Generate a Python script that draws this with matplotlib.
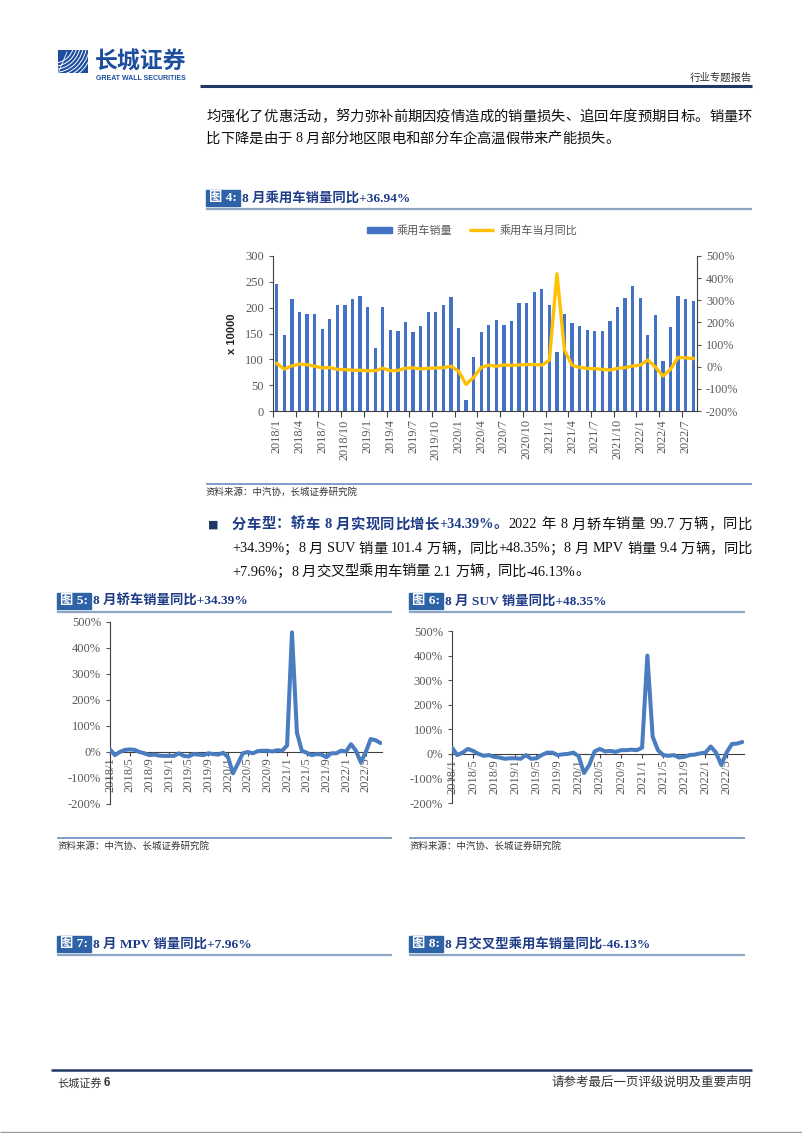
import matplotlib
matplotlib.use('Agg')
import matplotlib.pyplot as plt
import numpy as np
from matplotlib.patches import Rectangle, Arc
from matplotlib.lines import Line2D

W, H = 802, 1133
SERIF_CJK = ['Liberation Serif', 'Noto Sans CJK SC', 'DejaVu Sans']
plt.rcParams['font.family'] = SERIF_CJK

# ---------------- data ----------------
months = [f"{y}/{m}" for y in range(2018, 2023) for m in range(1, 13)][:56]

# 乘用车销量 (万辆)
passenger_sales = [245, 147, 216, 191, 188, 187, 158, 178, 205, 205, 217, 223,
                   202, 122, 202, 157, 155, 172, 152, 165, 192, 192, 205, 221,
                   160, 22, 104, 153, 167, 176, 166, 175, 209, 210, 230, 237,
                   205, 115, 187, 170, 164, 157, 155, 155, 175, 201, 219, 242,
                   218, 148, 186, 96, 162, 222, 217, 212]
# 乘用车当月同比 (%)
passenger_yoy = [14, -11, 4, 12, 9, 2, -5, -4, -12, -13, -16, -16,
                 -18, -18, -7, -18, -17, -7, -5, -10, -7, -6, -4, 2,
                 -20, -80, -48, -3, 7, 2, 8, 6, 8, 10, 10, 7,
                 29, 420, 75, 7, -3, -8, -9, -12, -15, -8, -4, 3,
                 7, 30, -1, -42, -12, 42, 40, 37]
# 轿车销量同比 (%)
sedan_yoy = [10, -12, 0, 8, 10, 8, 0, -5, -12, -10, -14, -15,
             -15, -15, -5, -15, -17, -8, -10, -12, -5, -8, -10, -3,
             -20, -82, -45, -5, 0, -5, 3, 5, 5, 2, 7, 5,
             25, 460, 75, 5, -3, -12, -8, -10, -20, -5, -5, 5,
             2, 30, 5, -40, 0, 50, 45, 34.39]
# SUV销量同比 (%)
suv_yoy = [25, -5, 5, 20, 12, 0, -8, -5, -12, -15, -20, -18,
           -18, -20, -5, -20, -18, -5, 5, 5, -5, -2, 0, 5,
           -10, -78, -45, 10, 20, 10, 12, 8, 15, 15, 17, 15,
           25, 400, 70, 15, -5, -8, -5, -15, -12, -5, -3, 2,
           5, 30, 5, -45, 5, 40, 42, 48.35]

BAR_C = '#4472C4'
LINE_Y = '#FFC000'
LINE_B = '#4A7CC0'
NAVY = '#1F3864'
TITLE_C = '#1F3C88'
BOX_C = '#2F63A8'
GRAY = '#595959'
BODY = 10.3

fig = plt.figure(figsize=(W / 100, H / 100), dpi=100)


def rect(l, t, r, b):
    return [l / W, 1 - b / H, (r - l) / W, (b - t) / H]


def ftext(x, y, s, **kw):
    kw.setdefault('va', 'center')
    return fig.text(x / W, 1 - y / H, s, **kw)


def hline(x0, x1, y, color, lw):
    fig.add_artist(Line2D([x0 / W, x1 / W], [1 - y / H, 1 - y / H], color=color,
                          lw=lw, transform=fig.transFigure, solid_capstyle='butt'))


renderer = fig.canvas.get_renderer()


def width_px(t):
    return t.get_window_extent(renderer=renderer).width


def justify(x0, x1, y, parts, size):
    toks = []
    for s, kw in parts:
        buf = ''
        for ch in s:
            if ord(ch) > 0x2E80 or ch == ' ':
                if buf:
                    toks.append((buf, kw))
                    buf = ''
                toks.append((ch, kw))
            else:
                buf += ch
        if buf:
            toks.append((buf, kw))
    items = []
    for s, kw in toks:
        if s == ' ':
            items.append((None, size * 1.389 * 0.25))
        else:
            t = ftext(0, y, s, fontsize=size, **kw)
            items.append((t, width_px(t)))
    extra = (x1 - x0 - sum(w for _, w in items)) / (len(items) - 1)
    x = x0
    for t, w in items:
        if t is not None:
            t.set_x(x / W)
        x += w + extra


def plain(x0, y, parts, size):
    # same tokenised layout, natural spacing
    x = x0
    for s, kw in parts:
        buf = ''
        for ch in s + '\0':
            if ch == '\0' or ord(ch) > 0x2E80 or ch == ' ':
                if buf:
                    t = ftext(x, y, buf, fontsize=size, **kw)
                    x += width_px(t)
                    buf = ''
                if ch == ' ':
                    x += size * 1.389 * 0.25
                elif ch != '\0':
                    t = ftext(x, y, ch, fontsize=size, **kw)
                    x += width_px(t)
            else:
                buf += ch
    return x


# ---------------- header ----------------
lax = fig.add_axes(rect(58, 50, 88, 73))
lax.set_xlim(0, 30)
lax.set_ylim(0, 23)
lax.axis('off')
lax.add_patch(Rectangle((0, 0), 30, 23, color='#1D4E9E'))
for i in range(7):
    a = Arc((-4, 30), 2 * (20 + i * 3.2), 2 * (20 + i * 3.2), theta1=270, theta2=360,
            color='white', lw=0.7)
    a.set_clip_box(lax.bbox)
    lax.add_patch(a)
lax.plot([1, 9], [2, 21], color='white', lw=0.6)

ftext(95, 62, '长城证券', fontsize=16.5, color='#1D4E9E', fontweight='bold',
      family=['Noto Sans CJK SC'])
ftext(96, 78, 'GREAT WALL SECURITIES', fontsize=5, color='#1D4E9E', fontweight='bold',
      family=['Liberation Sans'])
ftext(752, 78, '行业专题报告', fontsize=7.5, color='#333333', ha='right')
hline(200, 752, 86, NAVY, 2.2)

# body text
justify(206, 752, 117, [('均强化了优惠活动，努力弥补前期因疫情造成的销量损失、追回年度预期目标。销量环',
                         dict(color='#111111'))], BODY)
plain(206, 139, [('比下降是由于 8 月部分地区限电和部分车企高温假带来产能损失。',
                  dict(color='#111111'))], BODY)


def fig_title(x, y, num, text, x_end):
    t = ftext(x + 3, y, f'图 {num}:', fontsize=9.6, color='white', fontweight='bold')
    w = width_px(t)
    fig.add_artist(Rectangle((x / W, 1 - (y + 8) / H), (w + 6) / W, 16 / H,
                             color=BOX_C, transform=fig.transFigure, zorder=0))
    ftext(x + w + 8, y, text, fontsize=9.6, color=TITLE_C, fontweight='bold')
    hline(x, x_end, y + 11, '#8DA6C6', 1.6)


# ---------------- figure 4 ----------------
fig_title(206, 198, 4, '8 月乘用车销量同比+36.94%', 752)

ax = fig.add_axes(rect(273, 256, 697, 411))
x = np.arange(len(months))
ax.bar(x, passenger_sales, width=0.45, color=BAR_C, zorder=2)
ax.set_xlim(-0.5, len(months) - 0.5)
ax.set_ylim(0, 300)
ax.set_yticks(range(0, 301, 50))
ax.tick_params(axis='y', labelsize=9, colors=GRAY, length=3, width=0.8)
for sp in ['top', 'right']:
    ax.spines[sp].set_visible(False)
for sp in ['left', 'bottom']:
    ax.spines[sp].set_color('#404040')
    ax.spines[sp].set_linewidth(0.8)
ax.set_xticks(np.arange(-0.5, len(months), 3))
ax.set_xticklabels([])
ax.tick_params(axis='x', which='major', length=4, width=0.8, color='#404040')
ax.set_xticks(x[::3], minor=True)
ax.set_xticklabels(months[::3], minor=True, rotation=90, fontsize=8.8, color=GRAY)
ax.tick_params(axis='x', which='minor', length=0, pad=6)
ax.set_ylabel('x 10000', fontsize=8, fontweight='bold', family=['Liberation Sans'],
              color='#222222', labelpad=6)

ax2 = ax.twinx()
ax2.plot(x, passenger_yoy, color=LINE_Y, lw=2.4, zorder=3, solid_joinstyle='round')
ax2.set_ylim(-200, 500)
ax2.set_yticks(range(-200, 501, 100))
ax2.set_yticklabels([f'{v}%' for v in range(-200, 501, 100)])
ax2.tick_params(axis='y', labelsize=8.7, colors=GRAY, length=3, width=0.8)
for sp in ['top', 'left', 'bottom']:
    ax2.spines[sp].set_visible(False)
ax2.spines['right'].set_color('#404040')
ax2.spines['right'].set_linewidth(0.8)

# legend (manual)
fig.add_artist(Rectangle((367 / W, 1 - 233 / H), 25 / W, 6 / H, color=BAR_C,
                         transform=fig.transFigure))
ftext(397, 230, '乘用车销量', fontsize=8, color=GRAY)
hline(469, 494, 230, LINE_Y, 2.4)
ftext(500, 230, '乘用车当月同比', fontsize=8, color=GRAY)

hline(206, 752, 484, '#6C8EBF', 1.2)
ftext(206, 492, '资料来源：中汽协，长城证券研究院', fontsize=6.8, color='#333333',
      style='italic')

# ---------------- bullet paragraph ----------------
ftext(208, 525, '■', fontsize=8, color=NAVY, family=['DejaVu Sans'])
justify(232, 752, 525, [('分车型：轿车 8 月实现同比增长+34.39%。', dict(color=TITLE_C, fontweight='bold')),
                        ('2022 年 8 月轿车销量 99.7 万辆，同比', dict(color='#111111'))], BODY)
justify(232, 752, 549, [('+34.39%；8 月 SUV 销量 101.4 万辆，同比+48.35%；8 月 MPV 销量 9.4 万辆，同比',
                         dict(color='#111111'))], BODY)
plain(232, 572, [('+7.96%；8 月交叉型乘用车销量 2.1 万辆，同比-46.13%。',
                  dict(color='#111111'))], BODY)


# ---------------- figures 5 / 6 ----------------
def yoy_chart(px, values):
    a = fig.add_axes(rect(*px))
    xi = np.arange(len(values))
    a.plot(xi, values, color=LINE_B, lw=2.9, solid_joinstyle='round',
           solid_capstyle='round', zorder=3)
    a.set_xlim(0, len(values) - 0.7)
    a.set_ylim(-200, 500)
    a.set_yticks(range(-200, 501, 100))
    a.set_yticklabels([f'{v}%' for v in range(-200, 501, 100)])
    a.tick_params(axis='y', labelsize=9, colors=GRAY, length=3, width=0.8)
    for sp in ['top', 'right']:
        a.spines[sp].set_visible(False)
    a.spines['bottom'].set_position(('data', 0))
    for sp in ['left', 'bottom']:
        a.spines[sp].set_color('#404040')
        a.spines[sp].set_linewidth(0.8)
    a.set_xticks(xi[::4])
    a.set_xticklabels(months[::4], rotation=90, fontsize=9, color=GRAY)
    a.tick_params(axis='x', length=3, width=0.8, color='#404040', pad=1)
    a.patch.set_visible(False)
    return a


fig_title(57, 601, 5, '8 月轿车销量同比+34.39%', 392)
yoy_chart((110, 622, 382, 804), sedan_yoy)
hline(57, 392, 838, '#6C8EBF', 1.2)
ftext(57, 846, '资料来源：中汽协、长城证券研究院', fontsize=6.8, color='#333333', style='italic')

fig_title(409, 601, 6, '8 月 SUV 销量同比+48.35%', 745)
yoy_chart((452, 631, 744, 803), suv_yoy)
hline(409, 745, 838, '#6C8EBF', 1.2)
ftext(409, 846, '资料来源：中汽协、长城证券研究院', fontsize=6.8, color='#333333', style='italic')

# ---------------- figures 7 / 8 titles ----------------
fig_title(57, 944, 7, '8 月 MPV 销量同比+7.96%', 392)
fig_title(409, 944, 8, '8 月交叉型乘用车销量同比-46.13%', 745)

# ---------------- footer ----------------
hline(51, 752, 1070, NAVY, 1.8)
ftext(57, 1083, '长城证券', fontsize=8, color='#333333')
ftext(104, 1083, '6', fontsize=8.5, color='#333333', fontweight='bold',
      family=['Liberation Sans'])
ftext(752, 1083, '请参考最后一页评级说明及重要声明', fontsize=9, color='#333333', ha='right')
hline(0, W, 1132, '#9A9A9A', 1.0)

fig.savefig('out.png', dpi=100)
